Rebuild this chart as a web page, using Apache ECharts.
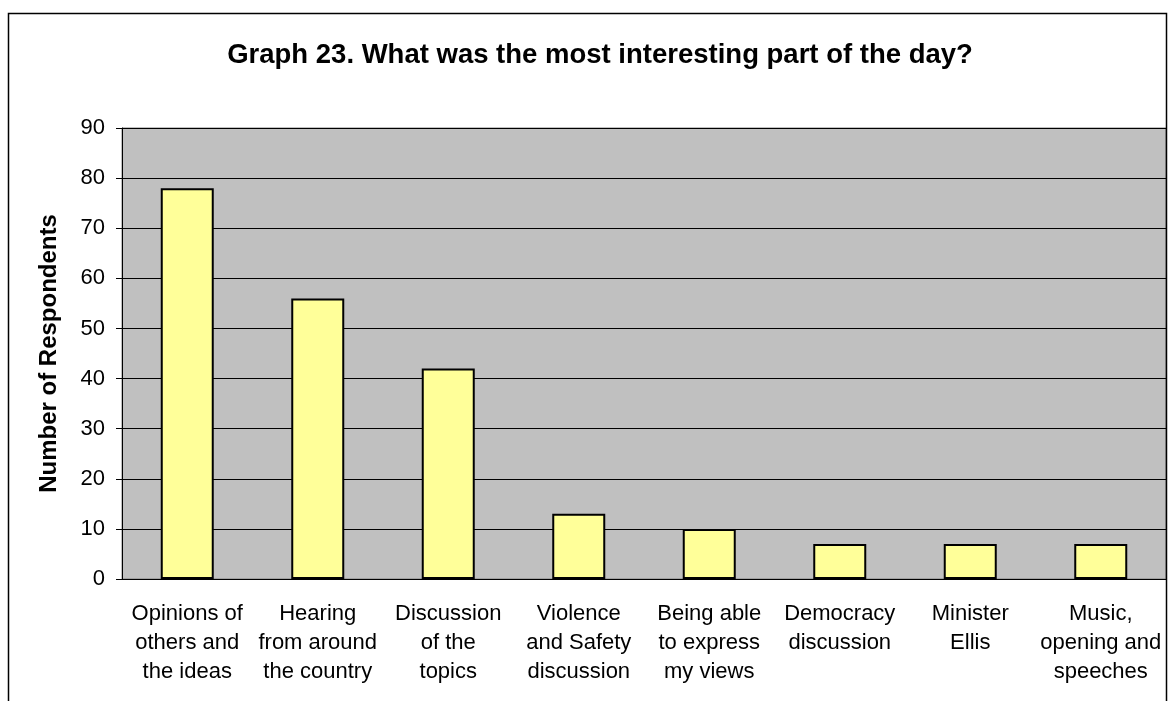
<!DOCTYPE html>
<html>
<head>
<meta charset="utf-8" />
<title>Graph 23</title>
<script src="https://cdn.jsdelivr.net/npm/echarts@6/dist/echarts.min.js"></script>
<style>
  html, body { margin: 0; padding: 0; background: #fff; }
  #chart { width: 1168px; height: 701px; }
</style>
</head>
<body>
<div id="chart"></div>
<script>
var categories = [
    'Opinions of\nothers and\nthe ideas',
    'Hearing\nfrom around\nthe country',
    'Discussion\nof the\ntopics',
    'Violence\nand Safety\ndiscussion',
    'Being able\nto express\nmy views',
    'Democracy\ndiscussion',
    'Minister\nEllis',
    'Music,\nopening and\nspeeches'
];
var respondents = [78, 56, 42, 13, 10, 7, 7, 7];
var yTicks = [0, 10, 20, 30, 40, 50, 60, 70, 80, 90];

var font = '"Liberation Sans", Arial, sans-serif';
var myChart = echarts.init(document.getElementById('chart'));

myChart.setOption({
    animation: false,
    title: {
        text: 'Graph 23. What was the most interesting part of the day?',
        left: 595,
        textAlign: 'center',
        top: 36,
        textStyle: { fontFamily: font, fontSize: 27.5, fontWeight: 'bold', color: '#000' }
    },
    graphic: [{
        type: 'rect',
        shape: { x: 8.5, y: 13.5, width: 1158, height: 720 },
        style: { fill: 'none', stroke: '#000', lineWidth: 1.5 },
        silent: true
    }],
    grid: {
        left: 122, right: 2, top: 128, bottom: 122,
        show: true,
        backgroundColor: '#C0C0C0',
        borderColor: '#808080',
        borderWidth: 1
    },
    xAxis: {
        type: 'category',
        data: categories,
        axisLine: { lineStyle: { color: '#000', width: 1 } },
        axisTick: { length: 7, lineStyle: { color: '#000' } },
        axisLabel: {
            interval: 0, margin: 20, color: '#000',
            fontFamily: font, fontSize: 22, lineHeight: 29
        }
    },
    yAxis: {
        type: 'value',
        min: yTicks[0],
        max: yTicks[yTicks.length - 1],
        interval: 10,
        name: 'Number of Respondents',
        nameLocation: 'middle',
        nameGap: 61,
        nameRotate: 90,
        nameTextStyle: { fontFamily: font, fontSize: 24, fontWeight: 'bold', color: '#000' },
        axisLine: { show: true, lineStyle: { color: '#000', width: 1 } },
        axisTick: { show: true, length: 6, lineStyle: { color: '#000' } },
        axisLabel: { margin: 17, color: '#000', fontFamily: font, fontSize: 22 },
        splitLine: { lineStyle: { color: '#000', width: 1 } }
    },
    series: [{
        type: 'bar',
        data: respondents,
        barWidth: 53,
        itemStyle: { color: '#FFFF99', borderColor: '#000', borderWidth: 2 }
    }]
});
</script>
</body>
</html>
